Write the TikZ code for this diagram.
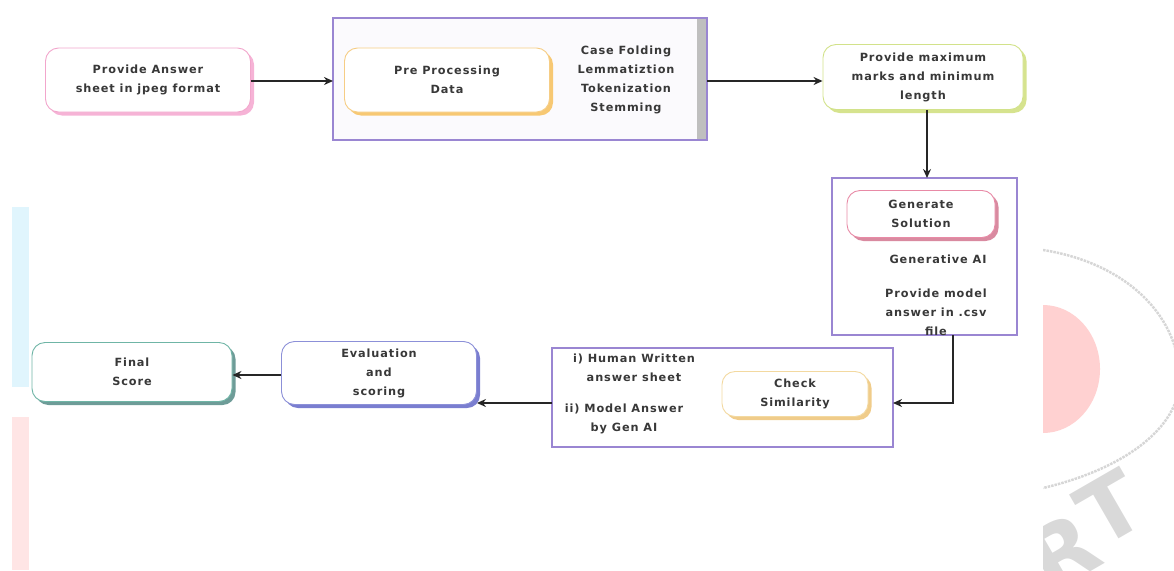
\documentclass[tikz,border=0pt]{standalone}
\usepackage{fontspec}
\setmainfont{DejaVu Sans}[LetterSpace=8]
\usetikzlibrary{arrows.meta,shadows}
\definecolor{pinkb}{HTML}{F2A6CC}
\definecolor{pinks}{HTML}{F6B3D6}
\definecolor{orab}{HTML}{F6CD85}
\definecolor{oras}{HTML}{F7C873}
\definecolor{grnb}{HTML}{D2E28A}
\definecolor{grns}{HTML}{D6E38E}
\definecolor{purb}{HTML}{9A86D2}
\definecolor{redb}{HTML}{E88AA6}
\definecolor{reds}{HTML}{D98AA0}
\definecolor{yelb}{HTML}{F3D9A0}
\definecolor{yels}{HTML}{F0CC8A}
\definecolor{blub}{HTML}{8C90D8}
\definecolor{blus}{HTML}{7A7ED0}
\definecolor{tealb}{HTML}{6FB5A6}
\definecolor{teals}{HTML}{6E9C98}
\tikzset{
  x=1pt,y=-1pt,
  txt/.style={font=\bfseries\fontsize{11.3}{19}\selectfont, text=black!78, align=center},
  rbox/.style={txt, draw=#1, line width=0.9pt, rounded corners=13pt, fill=white, inner sep=0pt},
  outer/.style={draw=purb, line width=1.1pt},
  arr/.style={line width=1.7pt, draw=black!85, -{Stealth[length=9pt,width=8pt]}},
  shad/.style={drop shadow={fill=#1, opacity=1, shadow xshift=3.5pt, shadow yshift=-3.5pt}},
  wmtxt/.style={rotate=30, text=black!15, font=\bfseries\fontsize{86}{86}\selectfont, inner sep=0pt}
}
\begin{document}
\begin{tikzpicture}
\useasboundingbox (0,0) rectangle (1174,570);
% watermark (faint)
\fill[cyan!12] (12,207) rectangle (29,387);
\fill[red!10] (12,417) rectangle (29,570);
\begin{scope}
\clip (1043,230) rectangle (1174,570);
\fill[red!18] (1043,305) arc[start angle=90,end angle=-90,x radius=57,y radius=-64] -- cycle;
\draw[black!16, line width=2.5pt, densely dotted]
  (1043,250) .. controls (1120,262) and (1178,310) .. (1180,378)
  .. controls (1180,430) and (1120,470) .. (1043,488);
\node[wmtxt] (wmR) at (1062,552) {R};
\node[wmtxt] (wmT) at (1110,508) {T};
\end{scope}

% outer boxes
\draw[outer, fill=purb!4] (333,18) rectangle (707,140);
\fill[black!25] (697,19) rectangle (706.4,139.4);
\draw[outer] (832,178) rectangle (1017,335);
\draw[outer] (552,348) rectangle (893,447);

% nodes
\node[rbox=pinkb, shad=pinks, minimum width=205pt, minimum height=64pt] (A) at (148,80) {Provide Answer\\sheet in jpeg format};
\node[rbox=orab, shad=oras, minimum width=205pt, minimum height=64pt] (P) at (447,80) {Pre Processing\\Data};
\node[txt] (T) at (626,80) {Case Folding\\Lemmatiztion\\Tokenization\\Stemming};
\coordinate (Bw) at (333,81);
\coordinate (Be) at (707,81);
\node[rbox=grnb, shad=grns, minimum width=200pt, minimum height=65pt] (C) at (923,77) {Provide maximum\\marks and minimum\\length};
\coordinate (Dn) at (927,178);
\node[rbox=redb, shad=reds, minimum width=148pt, minimum height=47pt] (G) at (921,214) {Generate\\Solution};
\node[txt] (GA) at (938,259) {Generative AI};
\node[txt] (PM) at (936,312) {Provide model\\answer in .csv\\file};
\coordinate (Ds) at (953,335);
\coordinate (Ee) at (893,403);
\coordinate (Ew) at (552,403);
\node[txt] (H1) at (634,368) {i) Human Written\\answer sheet};
\node[txt] (H2) at (624,419) {ii) Model Answer\\by Gen AI};
\node[rbox=yelb, shad=yels, minimum width=146pt, minimum height=45pt] (CS) at (795,394) {Check\\Similarity};
\node[rbox=blub, shad=blus, minimum width=195pt, minimum height=63pt] (F) at (379,373) {Evaluation\\and\\scoring};
\node[rbox=tealb, shad=teals, minimum width=200pt, minimum height=59pt] (FS) at (132,372) {Final\\Score};

% connectors
\draw[arr] (A.east |- Bw) -- (Bw);
\draw[arr] (Be) -- (C.west |- Be);
\draw[arr] (C.south -| Dn) -- (Dn);
\draw[arr] (Ds) -- (Ds |- Ee) -- (Ee);
\draw[arr] (Ew) -- (Ew -| F.east);
\draw[arr] (F.west |- 0,375) -- (FS.east |- 0,375);
\end{tikzpicture}
\end{document}
